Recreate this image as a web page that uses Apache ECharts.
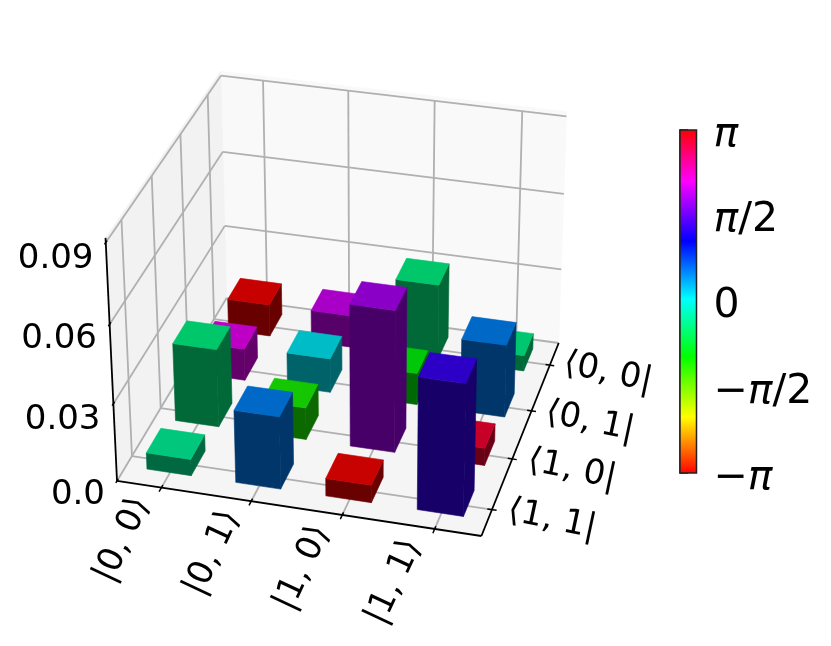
<!DOCTYPE html>
<html><head><meta charset="utf-8">
<style>html,body{margin:0;padding:0;background:#fff}#c{width:831px;height:646px}</style>
<script src="https://cdn.jsdelivr.net/npm/echarts@6/dist/echarts.min.js"></script>
</head><body><div id="c"></div>
<script>
const kets = ['|0, 0⟩','|0, 1⟩','|1, 0⟩','|1, 1⟩'];
const bras = ['⟨0, 0|','⟨0, 1|','⟨1, 0|','⟨1, 1|'];
const zTicks = [0, 0.03, 0.06, 0.09];
const zTickLabels = ['0.0','0.03','0.06','0.09'];
const phaseLabels = ['−π','−π/2','0','π/2','π'];
// rows are bras (back to front), columns are kets (left to right)
const heights = [
  [0.0128, 0.0128, 0.0300, 0.0062],
  [0.0126, 0.0135, 0.0125, 0.0285],
  [0.0305, 0.0125, 0.0550, 0.0068],
  [0.0064, 0.0280, 0.0068, 0.0505]
];
const phases = [
  [ 3.14,  2.03, -0.45, -0.42],
  [ 2.15,  0.10, -0.97,  0.55],
  [-0.45, -1.12,  1.86,  2.95],
  [-0.35,  0.55, -3.13,  1.35]
];
const hueStops = [[0,[255,0,0]],[0.165,[255,255,0]],[0.34,[0,255,0]],[0.507,[0,255,255]],[0.675,[0,0,255]],[0.85,[255,0,255]],[1,[255,0,0]]];
const zMax = 0.09, zPane = 0.0917, barWidth = 0.5, barRowShift = -0.05, barColShift = -0.012;

// camera: world (x, y, z) -> screen, calibrated on the corners of the box
const viewCorners = [
  [0,4,0,116.5,480.5],[4,4,0,481.7,536],[4,0,0,559,344],[0,0,0,227.5,299],
  [0,4,0.09,106,243],[0,0,0.09,220.7,75.7],[4,0,0.09,567,116.7],
  [0,0,0.03,224.6,225],[0,0,0.06,222.5,151.7],[4,0,0.03,560,268],[4,0,0.06,564,194]
];
function solveCamera(pts){
  const A=[],b=[];
  pts.forEach(([x,y,z,u,v])=>{
    const Z=z/zMax*4,U=u/100,V=v/100;
    A.push([x,y,Z,1,0,0,0,0,-U*x,-U*y,-U*Z]);b.push(U);
    A.push([0,0,0,0,x,y,Z,1,-V*x,-V*y,-V*Z]);b.push(V);
  });
  const n=11,M=[];
  for(let i=0;i<n;i++){M.push([]);for(let j=0;j<=n;j++){let s=0;
    for(let k=0;k<A.length;k++)s+=A[k][i]*(j<n?A[k][j]:b[k]);M[i].push(s);}}
  for(let i=0;i<n;i++){let p=i;for(let r=i+1;r<n;r++)if(Math.abs(M[r][i])>Math.abs(M[p][i]))p=r;
    [M[i],M[p]]=[M[p],M[i]];
    for(let r=0;r<n;r++)if(r!==i){const f=M[r][i]/M[i][i];for(let c=i;c<=n;c++)M[r][c]-=f*M[i][c];}}
  return M.map((r,i)=>r[n]/r[i]);
}
const cam = solveCamera(viewCorners);
function project(x,y,z){
  const Z=z/zMax*4, w=cam[8]*x+cam[9]*y+cam[10]*Z+1;
  return [100*(cam[0]*x+cam[1]*y+cam[2]*Z+cam[3])/w,100*(cam[4]*x+cam[5]*y+cam[6]*Z+cam[7])/w];
}
function hueColor(phase,f){
  const t=(phase+Math.PI)/(2*Math.PI);
  let i=0;while(i<hueStops.length-2&&t>hueStops[i+1][0])i++;
  const [a,ca]=hueStops[i],[b,cb]=hueStops[i+1],k=Math.min(1,Math.max(0,(t-a)/(b-a)));
  const c=ca.map((v,m)=>Math.round((v+(cb[m]-v)*k)*f));
  return 'rgb('+c.join(',')+')';
}
const barData=[];
heights.forEach((r,j)=>r.forEach((h,i)=>barData.push([i,j,h,phases[j][i]])));

const FONT='"DejaVu Sans"';
const GRID='#b0b0b0';
function poly(api,pts,fill){
  return {type:'polygon',shape:{points:pts.map(p=>api.coord(project(p[0],p[1],p[2])))},
    style:{fill:fill,stroke:fill,lineWidth:0.6}};
}
function line(api,a,b,color,w){
  const p=api.coord(project(a[0],a[1],a[2])),q=api.coord(project(b[0],b[1],b[2]));
  return {type:'line',shape:{x1:p[0],y1:p[1],x2:q[0],y2:q[1]},style:{stroke:color,lineWidth:w,fill:null}};
}
function renderBox(params,api){
  const ch=[],W=1.8;
  ch.push(poly(api,[[0,0,0],[4,0,0],[4,0,zPane],[0,0,zPane]],'#f9f9f9'));
  ch.push(poly(api,[[0,0,0],[0,4,0],[0,4,zPane],[0,0,zPane]],'#f2f2f2'));
  ch.push(poly(api,[[0,0,0],[4,0,0],[4,4,0],[0,4,0]],'#f5f5f5'));
  kets.forEach((_,i)=>{
    const x=i+0.5;
    ch.push(line(api,[x,4,0],[x,0,0],GRID,W));
    ch.push(line(api,[x,0,0],[x,0,zMax],GRID,W));
  });
  bras.forEach((_,j)=>{
    const y=j+0.5;
    ch.push(line(api,[4,y,0],[0,y,0],GRID,W));
    ch.push(line(api,[0,y,0],[0,y,zMax],GRID,W));
  });
  zTicks.forEach(z=>{
    ch.push(line(api,[0,4,z],[0,0,z],GRID,W));
    ch.push(line(api,[0,0,z],[4,0,z],GRID,W));
  });
  return {type:'group',children:ch};
}
function renderBar(params,api){
  const i=api.value(0),j=api.value(1),h=api.value(2),ph=api.value(3);
  const c=j+0.5+barRowShift,d=i+0.5+barColShift;
  const x0=d-barWidth/2,x1=d+barWidth/2,y0=c-barWidth/2,y1=c+barWidth/2;
  return {type:'group',children:[
    poly(api,[[x1,y0,0],[x1,y1,0],[x1,y1,h],[x1,y0,h]],hueColor(ph,0.41)),
    poly(api,[[x0,y1,0],[x1,y1,0],[x1,y1,h],[x0,y1,h]],hueColor(ph,0.41)),
    poly(api,[[x0,y0,h],[x1,y0,h],[x1,y1,h],[x0,y1,h]],hueColor(ph,0.78))
  ]};
}
function renderAxes(params,api){
  const ch=[],K='#000',W=1.8;
  ch.push(line(api,[0,4,0],[4,4,0],K,W));
  ch.push(line(api,[4,4,0],[4,0,0],K,W));
  ch.push(line(api,[0,4,0],[0,4,zPane],K,W));
  kets.forEach((_,i)=>ch.push(line(api,[i+0.5,3.95,0],[i+0.5,4.08,0],K,1.5)));
  bras.forEach((_,j)=>ch.push(line(api,[3.95,j+0.5,0],[4.05,j+0.5,0],K,1.5)));
  zTicks.forEach(z=>ch.push(line(api,[0,3.96,z],[0,4.04,z],K,1.5)));
  return {type:'group',children:ch};
}
const ketLabelPos=[[122.5,540],[212.5,553],[302.5,568],[394,582]];
const braLabelPos=[[608,373],[590,422],[572,470],[552,520]];
const zLabelRight=[[105,495],[100.5,420],[97,339],[93.5,259]];
function renderLabels(params,api){
  const ch=[];
  const txt=(s,p,rot,align)=>{const c=api.coord(p);return {type:'text',x:c[0],y:c[1],rotation:rot,
    style:{text:s,font:'34px '+FONT,fill:'#000',align:align||'center',verticalAlign:'middle'}};};
  kets.forEach((s,i)=>ch.push(txt(s,ketLabelPos[i],65*Math.PI/180)));
  bras.forEach((s,i)=>ch.push(txt(s,braLabelPos[i],-12*Math.PI/180)));
  zTickLabels.forEach((s,i)=>ch.push(txt(s,zLabelRight[i],0,'right')));
  return {type:'group',children:ch};
}
function renderBarScale(params,api){
  const a=api.coord([0,Math.PI]),b=api.coord([1,-Math.PI]);
  const stops=hueStops.map(s=>({offset:1-s[0],color:'rgb('+s[1].join(',')+')'})).reverse();
  return {type:'rect',shape:{x:a[0],y:a[1],width:b[0]-a[0],height:b[1]-a[1]},
    style:{fill:new echarts.graphic.LinearGradient(0,0,0,1,stops),stroke:'#222',lineWidth:1.5}};
}
const chart=echarts.init(document.getElementById('c'),null,{renderer:'canvas'});
chart.setOption({
  animation:false,
  backgroundColor:'#fff',
  grid:[
    {left:0,top:0,width:831,height:646,show:false},
    {left:680,top:130,width:16.5,height:343,show:false}
  ],
  xAxis:[
    {gridIndex:0,type:'value',min:0,max:831,show:false},
    {gridIndex:1,type:'value',min:0,max:1,show:false}
  ],
  yAxis:[
    {gridIndex:0,type:'value',min:0,max:646,inverse:true,show:false},
    {gridIndex:1,type:'value',min:-Math.PI,max:Math.PI,interval:Math.PI/2,position:'right',
     axisLine:{show:true,lineStyle:{color:'#222',width:1.5}},
     axisTick:{show:true,length:8,lineStyle:{color:'#222',width:1.5}},
     splitLine:{show:false},
     axisLabel:{show:true,margin:17,color:'#000',fontFamily:FONT,fontSize:41,padding:[10,0,0,0],
       formatter:v=>{const s=phaseLabels[Math.round(v/(Math.PI/2))+2];
         return s.replace('π','{i|π}').replace(/^([^{]+)?\{i/,(m,g)=>(g?'{n|'+g+'}':'')+'{i');},
       rich:{i:{fontFamily:FONT,fontStyle:'italic',fontSize:41,color:'#000'},n:{fontFamily:FONT,fontSize:41,color:'#000'}}}}
  ],
  series:[
    {type:'custom',name:'box',xAxisIndex:0,yAxisIndex:0,z:1,silent:true,clip:false,data:[[0,0]],renderItem:renderBox},
    {type:'custom',name:'amplitude',xAxisIndex:0,yAxisIndex:0,z:2,silent:true,clip:false,data:barData,renderItem:renderBar},
    {type:'custom',name:'axes',xAxisIndex:0,yAxisIndex:0,z:3,silent:true,clip:false,data:[[0,0]],renderItem:renderAxes},
    {type:'custom',name:'labels',xAxisIndex:0,yAxisIndex:0,z:4,silent:true,clip:false,data:[[0,0]],renderItem:renderLabels},
    {type:'custom',name:'phase',xAxisIndex:1,yAxisIndex:1,z:2,silent:true,clip:false,data:[[0,0]],renderItem:renderBarScale}
  ]
});
</script></body></html>
